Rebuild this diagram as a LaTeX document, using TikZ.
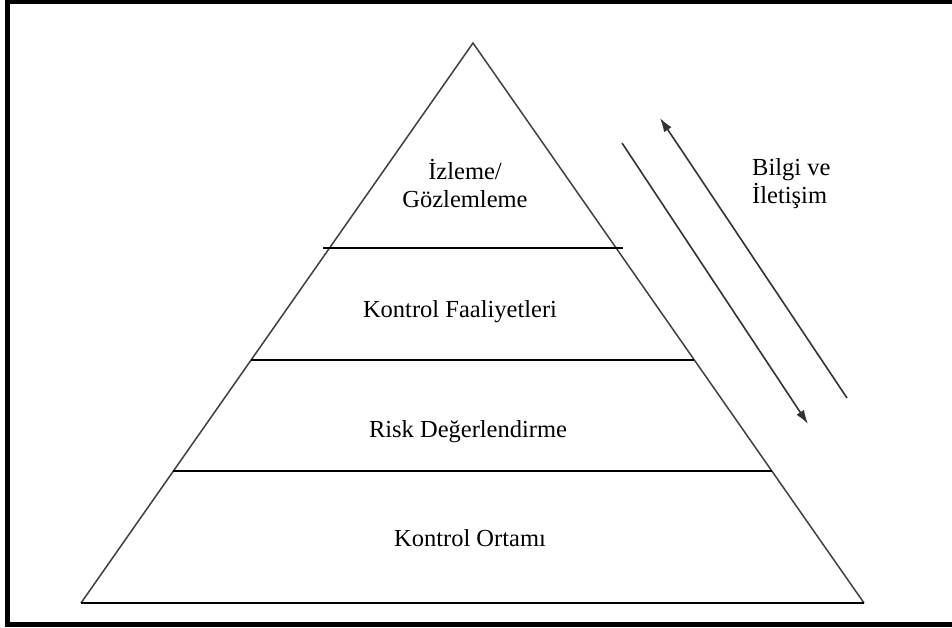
\documentclass[tikz,border=0pt]{standalone}
\usepackage{fontspec}
\setmainfont{Liberation Serif}
\usetikzlibrary{arrows.meta,positioning}

\begin{document}
\begin{tikzpicture}[x=1pt, y=-1pt, >={Latex[length=14pt,width=9pt]}]
    % Styles
    \tikzstyle{label} = [font=\fontsize{24.5}{28}\selectfont, inner sep=0pt]
    \tikzstyle{edge} = [draw, line width=1.5pt, black!75]
    \tikzstyle{divider} = [draw, line width=1.7pt, black]
    \tikzstyle{flow} = [draw, line width=1.6pt, black!80, ->]

    \useasboundingbox (0,0) rectangle (952,627);

    % Frame
    \fill (5,0) rectangle (952,4);
    \fill (5,0) rectangle (10,627);
    \fill (5,622) rectangle (952,627);

    % Pyramid
    \coordinate (top) at (473,43);
    \coordinate (bl) at (81,603);
    \coordinate (br) at (864,603);
    \draw [edge] (bl) -- (top) -- (br);
    \draw [divider] (bl) -- (br);

    % Dividers
    \coordinate (d1l) at (323,248);
    \coordinate (d1r) at (623,248);
    \coordinate (d2l) at (251,360);
    \coordinate (d2r) at (694,360);
    \coordinate (d3l) at (173,471);
    \coordinate (d3r) at (772,471);
    \draw [divider] (d1l) -- (d1r);
    \draw [divider] (d2l) -- (d2r);
    \draw [divider] (d3l) -- (d3r);

    % Labels
    \node [label, align=center] (monitor) at (465,184) {İzleme/\\Gözlemleme};
    \node [label, anchor=base] (activity) at (460,317) {Kontrol Faaliyetleri};
    \node [label, anchor=base] (risk) at (468,437) {Risk Değerlendirme};
    \node [label, anchor=base] (environment) at (470,546) {Kontrol Ortamı};
    \node [label, align=left, anchor=west] (info) at (752,184) {Bilgi ve\\İletişim};

    % Information flow
    \coordinate (down start) at (622,143);
    \coordinate (down end) at (808,424);
    \coordinate (up start) at (847,398);
    \coordinate (up end) at (660,118);
    \path [flow] (down start) -- (down end);
    \path [flow] (up start) -- (up end);
\end{tikzpicture}
\end{document}
